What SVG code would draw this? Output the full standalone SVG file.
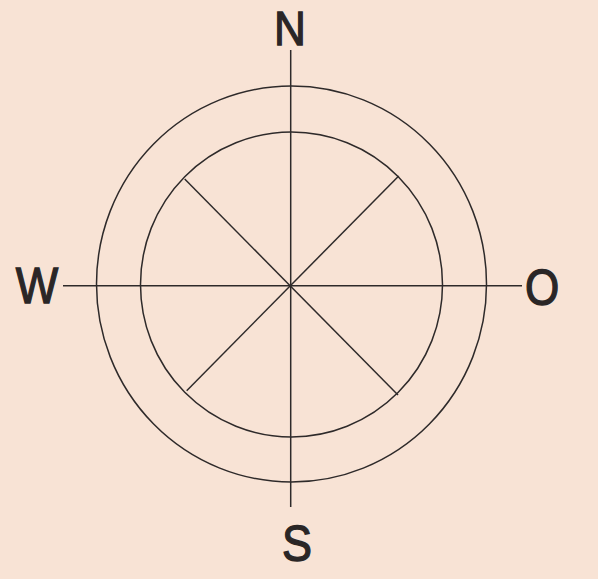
<svg xmlns="http://www.w3.org/2000/svg" width="598" height="579" viewBox="0 0 598 579">
<style>
.ln{stroke:#2e2a2a;stroke-width:1.5;fill:none}
.lbl{font-family:"Liberation Sans",Arial,sans-serif;font-size:50px;fill:#2a2626;stroke:#2a2626;stroke-width:1.3;text-anchor:middle}
</style>
<rect width="598" height="579" fill="#f8e3d5"/>
<g id="rose">
<ellipse class="ln" cx="291.5" cy="284" rx="195" ry="198"/>
<ellipse class="ln" cx="291.5" cy="284.5" rx="151" ry="152.5"/>
</g>
<g id="connectors">
<line class="ln" x1="290.7" y1="50" x2="290.7" y2="507"/>
<line class="ln" x1="63" y1="285.7" x2="522" y2="285.7"/>
<line class="ln" x1="184.7" y1="179" x2="398" y2="395"/>
<line class="ln" x1="398.7" y1="176" x2="186.7" y2="390.7"/>
</g>
<g id="N"><text class="lbl" x="290" y="45.5" style="font-size:49px" transform="translate(290 0) scale(0.9 1) translate(-290 0)">N</text></g>
<g id="W"><text class="lbl" x="37" y="303" transform="translate(37 0) scale(0.9 1) translate(-37 0)">W</text></g>
<g id="O"><text class="lbl" x="542" y="305" transform="translate(542 0) scale(0.88 1) translate(-542 0)">O</text></g>
<g id="S"><text class="lbl" x="297" y="561" transform="translate(297 0) scale(0.9 1) translate(-297 0)">S</text></g>
</svg>
